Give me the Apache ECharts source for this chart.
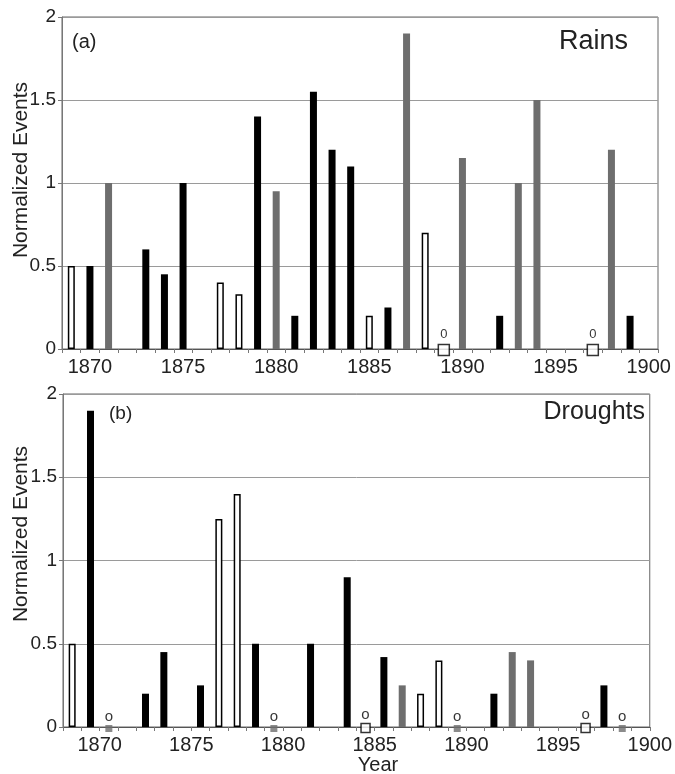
<!DOCTYPE html>
<html>
<head>
<meta charset="utf-8">
<script src="https://cdn.jsdelivr.net/npm/echarts@6/dist/echarts.min.js"></script>
<style>
html,body{margin:0;padding:0;background:#fff;}
#chart{width:675px;height:774px;}
</style>
</head>
<body>
<div id="chart"></div>
<script>
// Categories (years) and tick labels
const years = [1869,1870,1871,1872,1873,1874,1875,1876,1877,1878,1879,1880,1881,1882,1883,1884,
               1885,1886,1887,1888,1889,1890,1891,1892,1893,1894,1895,1896,1897,1898,1899,1900];
const tickLabels = [1870,1875,1880,1885,1890,1895,1900];

// (a) Rains
const rainsOpenYears = [1869,1877,1878,1885,1888];
const rainsOpenValues = [0.5,0.4,0.33,0.2,0.7];
const rainsBlackYears = [1870,1873,1874,1875,1879,1881,1882,1883,1884,1886,1892,1899];
const rainsBlackValues = [0.5,0.6,0.45,1.0,1.4,0.2,1.55,1.2,1.1,0.25,0.2,0.2];
const rainsGrayYears = [1871,1880,1887,1890,1893,1894,1898];
const rainsGrayValues = [1.0,0.95,1.9,1.15,1.0,1.5,1.2];
const rainsOpenZeroYears = [1889,1897];

// (b) Droughts
const droughtsOpenYears = [1869,1877,1878,1888,1889];
const droughtsOpenValues = [0.5,1.25,1.4,0.2,0.4];
const droughtsBlackYears = [1870,1873,1874,1876,1879,1882,1884,1886,1892,1898];
const droughtsBlackValues = [1.9,0.2,0.45,0.25,0.5,0.5,0.9,0.42,0.2,0.25];
const droughtsGrayYears = [1887,1893,1894];
const droughtsGrayValues = [0.25,0.45,0.4];
const droughtsOpenZeroYears = [1885,1897];
const droughtsGrayZeroYears = [1871,1880,1890,1899];

const FONT = '"Liberation Sans", Arial, sans-serif';
const GRAY = '#6e6e6e';

function toSeriesData(ys, vs) {
  const arr = years.map(() => null);
  ys.forEach((y, i) => { arr[years.indexOf(y)] = vs[i]; });
  return arr;
}
function zeroData(ys) {
  return ys.map(y => [String(y), 0]);
}

const chart = echarts.init(document.getElementById('chart'), null, {renderer: 'canvas'});

const grids = [
  {left: 62, right: 17, top: 17, height: 332, show: true, borderColor: '#666', borderWidth: 1},
  {left: 63, right: 18, top: 394, height: 333, show: true, borderColor: '#666', borderWidth: 1}
];

function catAxis(gi, showLabels) {
  return {
    type: 'category', gridIndex: gi, data: years.map(String),
    boundaryGap: true,
    axisLine: {show: true, lineStyle: {color: '#555', width: 1}},
    axisTick: {show: true, interval: 0, length: 4, lineStyle: {color: '#777'}},
    axisLabel: {
      show: showLabels, interval: 0, margin: 8,
      fontFamily: FONT, fontSize: 20, color: '#222',
      formatter: v => (tickLabels.indexOf(Number(v)) >= 0 ? v : '')
    },
    splitLine: {show: false}
  };
}

function valAxis(gi) {
  return {
    type: 'value', gridIndex: gi, min: 0, max: 2, interval: 0.5,
    axisLine: {show: true, lineStyle: {color: '#777'}},
    axisTick: {show: true, length: 4, lineStyle: {color: '#777'}},
    axisLabel: {margin: 6, fontFamily: FONT, fontSize: 19, color: '#222'},
    splitLine: {show: true, lineStyle: {color: '#9a9a9a', width: 1}}
  };
}

function barSeries(xi, data, color, open) {
  return {
    type: 'bar', xAxisIndex: xi, yAxisIndex: xi, data: data,
    barWidth: 7, barGap: '-100%',
    itemStyle: open ? {color: '#fff', borderColor: '#000', borderWidth: 1.5}
                    : {color: color},
    emphasis: {disabled: true}, animation: false
  };
}

function zeroSeries(xi, data, open, size, offY, text, fs, dist) {
  return {
    type: 'scatter', xAxisIndex: xi, yAxisIndex: xi, data: data,
    symbol: 'rect', symbolSize: size, symbolOffset: [0, offY], clip: false, z: 5,
    itemStyle: open ? {color: '#fff', borderColor: '#000', borderWidth: 1.5}
                    : {color: GRAY},
    label: {show: true, position: 'top', distance: dist, formatter: text,
            fontFamily: FONT, fontSize: fs, color: '#000'},
    emphasis: {disabled: true}, animation: false
  };
}

const option = {
  backgroundColor: '#fff',
  animation: false,
  grid: grids,
  xAxis: [
    catAxis(0, true),
    catAxis(1, false),
    {
      type: 'value', gridIndex: 1, min: 1868, max: 1900, position: 'bottom',
      axisLine: {show: false}, axisTick: {show: false}, splitLine: {show: false},
      axisLabel: {show: true, margin: 8, fontFamily: FONT, fontSize: 20, color: '#222',
                  customValues: tickLabels, formatter: v => String(v)}
    }
  ],
  yAxis: [valAxis(0), valAxis(1)],
  series: [
    barSeries(0, toSeriesData(rainsOpenYears, rainsOpenValues), null, true),
    barSeries(0, toSeriesData(rainsBlackYears, rainsBlackValues), '#000', false),
    barSeries(0, toSeriesData(rainsGrayYears, rainsGrayValues), GRAY, false),
    zeroSeries(0, zeroData(rainsOpenZeroYears), true, 11, 1, '0', 13, 3),

    barSeries(1, toSeriesData(droughtsOpenYears, droughtsOpenValues), null, true),
    barSeries(1, toSeriesData(droughtsBlackYears, droughtsBlackValues), '#000', false),
    barSeries(1, toSeriesData(droughtsGrayYears, droughtsGrayValues), GRAY, false),
    zeroSeries(1, zeroData(droughtsOpenZeroYears), true, 9, 1, 'o', 15, 0),
    zeroSeries(1, zeroData(droughtsGrayZeroYears), false, 7, 1.5, 'o', 15, 1)
  ],
  graphic: [
    {type: 'text', left: 72, top: 32, style: {text: '(a)', font: '20px ' + FONT, fill: '#222'}},
    {type: 'text', right: 47, top: 28, style: {text: 'Rains', font: '27px ' + FONT, fill: '#222'}},
    {type: 'text', left: 109, top: 404, style: {text: '(b)', font: '19px ' + FONT, fill: '#222'}},
    {type: 'text', right: 30, top: 400, style: {text: 'Droughts', font: '25px ' + FONT, fill: '#222'}},
    {type: 'text', x: 21, y: 170, rotation: Math.PI / 2,
     style: {text: 'Normalized Events', font: '21px ' + FONT, fill: '#222', align: 'center', verticalAlign: 'middle'}},
    {type: 'text', x: 21, y: 534, rotation: Math.PI / 2,
     style: {text: 'Normalized Events', font: '21px ' + FONT, fill: '#222', align: 'center', verticalAlign: 'middle'}},
    {type: 'text', x: 378, y: 765,
     style: {text: 'Year', font: '20px ' + FONT, fill: '#222', align: 'center', verticalAlign: 'middle'}}
  ]
};
chart.setOption(option);
</script>
</body>
</html>
